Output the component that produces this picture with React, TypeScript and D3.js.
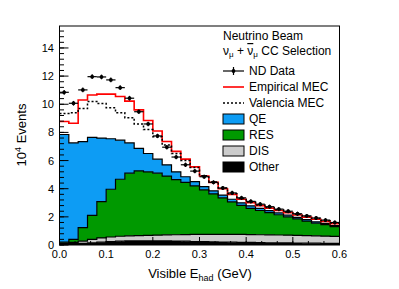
import * as d3 from "d3";

// bin low edges (GeV), width 0.02
const binLow = [0.00, 0.02, 0.04, 0.06, 0.08, 0.10, 0.12, 0.14, 0.16, 0.18, 0.20, 0.22, 0.24, 0.26, 0.28,
  0.30, 0.32, 0.34, 0.36, 0.38, 0.40, 0.42, 0.44, 0.46, 0.48, 0.50, 0.52, 0.54, 0.56, 0.58];
const binWidth = 0.02;

// stacked MC components (10^4 events)
const other = [0.08, 0.10, 0.12, 0.16, 0.20, 0.24, 0.27, 0.29, 0.30, 0.30, 0.30, 0.29, 0.28, 0.27, 0.25,
  0.24, 0.22, 0.21, 0.20, 0.19, 0.18, 0.17, 0.16, 0.15, 0.15, 0.14, 0.13, 0.13, 0.12, 0.12];
const dis = [0.04, 0.08, 0.16, 0.24, 0.30, 0.33, 0.35, 0.36, 0.37, 0.39, 0.40, 0.43, 0.45, 0.47, 0.50,
  0.52, 0.54, 0.55, 0.55, 0.56, 0.56, 0.56, 0.56, 0.56, 0.55, 0.54, 0.54, 0.52, 0.51, 0.49];
const res = [0.08, 0.22, 0.95, 1.70, 2.58, 3.39, 4.05, 4.45, 4.59, 4.51, 4.40, 4.18, 3.92, 3.71, 3.45,
  3.16, 2.87, 2.59, 2.32, 2.07, 1.86, 1.72, 1.58, 1.44, 1.30, 1.17, 1.03, 0.90, 0.82, 0.69];
const qe = [7.65, 6.85, 6.12, 5.55, 4.52, 3.59, 2.78, 2.15, 1.61, 1.30, 1.00, 0.80, 0.55, 0.40, 0.30,
  0.23, 0.22, 0.20, 0.18, 0.18, 0.18, 0.15, 0.14, 0.13, 0.12, 0.11, 0.10, 0.10, 0.08, 0.08];

// MEC contributions on top of the stack
const empiricalMec = [0.92, 1.40, 2.95, 3.01, 3.12, 3.17, 3.10, 2.97, 2.73, 2.35, 2.00, 1.65, 1.45, 1.25, 1.05,
  0.75, 0.60, 0.45, 0.35, 0.25, 0.22, 0.20, 0.18, 0.17, 0.18, 0.17, 0.18, 0.18, 0.15, 0.14];
const valenciaMec = [1.50, 2.15, 2.35, 2.55, 2.45, 2.20, 1.95, 1.80, 1.73, 1.70, 1.60, 1.40, 1.30, 1.15, 1.00,
  0.77, 0.63, 0.50, 0.40, 0.30, 0.27, 0.25, 0.23, 0.22, 0.23, 0.22, 0.23, 0.23, 0.19, 0.18];

// ND data
const ndData = [10.85, 10.07, 11.02, 11.96, 11.94, 11.73, 11.18, 10.43, 9.47, 8.60, 7.75, 6.95, 6.25, 5.70, 5.25,
  4.85, 4.45, 4.05, 3.70, 3.35, 3.10, 2.90, 2.72, 2.55, 2.40, 2.22, 2.07, 1.92, 1.77, 1.60];
const ndErr = [0.06, 0.06, 0.06, 0.06, 0.06, 0.06, 0.06, 0.06, 0.05, 0.05, 0.05, 0.05, 0.05, 0.05, 0.05,
  0.04, 0.04, 0.04, 0.04, 0.04, 0.04, 0.04, 0.04, 0.04, 0.04, 0.04, 0.03, 0.03, 0.03, 0.03];

const yTicks = [0, 2, 4, 6, 8, 10, 12, 14];
const xTicks = [0.0, 0.1, 0.2, 0.3, 0.4, 0.5, 0.6];

const W = 399;
const H = 289;
const FONT = "'Liberation Sans', Arial, Helvetica, sans-serif";

const colors: Record<string, string> = {
  other: "#000000",
  dis: "#cccccc",
  res: "#009900",
  qe: "#0d9cf4",
};

export default function App() {
  const x = d3.scaleLinear().domain([0, 0.6]).range([59.5, 339.5]);
  const y = d3.scaleLinear().domain([0, 15.56]).range([245, 26]);

  const table = binLow.map((lo, i) => ({
    lo,
    other: other[i],
    dis: dis[i],
    res: res[i],
    qe: qe[i],
  }));
  const keys = ["other", "dis", "res", "qe"];
  const stacked = d3.stack<any>().keys(keys)(table);
  const stackTop = stacked[stacked.length - 1].map((d) => d[1]);

  const empTotal = stackTop.map((t, i) => t + empiricalMec[i]);
  const valTotal = stackTop.map((t, i) => t + valenciaMec[i]);

  // step helpers: points at every edge, repeating last value at the right edge
  const stepPts = (vals: number[]) => {
    const pts = binLow.map((lo, i) => [lo, vals[i]] as [number, number]);
    pts.push([binLow[binLow.length - 1] + binWidth, vals[vals.length - 1]]);
    return pts;
  };

  const stepLine = d3
    .line<[number, number]>()
    .x((d) => x(d[0]))
    .y((d) => y(d[1]))
    .curve(d3.curveStepAfter);

  const stepArea = d3
    .area<[number, number, number]>()
    .x((d) => x(d[0]))
    .y0((d) => y(d[1]))
    .y1((d) => y(d[2]))
    .curve(d3.curveStepAfter);

  const layers = stacked.map((s) => {
    const pts = binLow.map((lo, i) => [lo, s[i][0], s[i][1]] as [number, number, number]);
    const last = s[s.length - 1];
    pts.push([binLow[binLow.length - 1] + binWidth, last[0], last[1]]);
    return { key: s.key, pts, top: stepPts(s.map((d) => d[1])) };
  });

  const yMinor = d3.range(0, 15.5, 0.4);
  const xMinor = d3.range(0, 0.6001, 0.1 / 3);

  const legendX = 223;
  const legendRows = [
    { label: "ND Data", kind: "data", y: 71 },
    { label: "Empirical MEC", kind: "red", y: 87 },
    { label: "Valencia MEC", kind: "dot", y: 103 },
    { label: "QE", kind: "qe", y: 119 },
    { label: "RES", kind: "res", y: 135 },
    { label: "DIS", kind: "dis", y: 151 },
    { label: "Other", kind: "other", y: 167 },
  ];

  return (
    <svg
      width={W}
      height={H}
      style={{ position: "absolute", left: 0, top: 0, background: "#fff" }}
      fontFamily={FONT}
    >
      {/* stacked components */}
      {layers.map((l) => (
        <path key={l.key} d={stepArea(l.pts) || ""} fill={colors[l.key]} stroke="none" />
      ))}
      {layers.map((l) => (
        <path key={"o" + l.key} d={stepLine(l.top) || ""} fill="none" stroke="#000" strokeWidth={1.2} />
      ))}

      {/* MEC totals */}
      <path d={stepLine(stepPts(empTotal)) || ""} fill="none" stroke="#ff0000" strokeWidth={1.6} />
      <path
        d={stepLine(stepPts(valTotal)) || ""}
        fill="none"
        stroke="#000"
        strokeWidth={1.5}
        strokeDasharray="2,2"
      />

      {/* data */}
      {ndData.map((v, i) => {
        const cx = x(binLow[i] + binWidth / 2);
        return (
          <g key={"d" + i}>
            <line x1={x(binLow[i])} x2={x(binLow[i] + binWidth)} y1={y(v)} y2={y(v)} stroke="#000" strokeWidth={1.2} />
            <line x1={cx} x2={cx} y1={y(v - ndErr[i]) + 1.5} y2={y(v + ndErr[i]) - 1.5} stroke="#000" strokeWidth={1.2} />
            <circle cx={cx} cy={y(v)} r={1.9} fill="#000" />
          </g>
        );
      })}

      {/* frame */}
      <rect x={59.5} y={26} width={280} height={219} fill="none" stroke="#000" strokeWidth={1} />

      {/* y axis */}
      {yMinor.map((t) => (
        <line key={"ym" + t} x1={59.5} x2={64} y1={y(t)} y2={y(t)} stroke="#000" strokeWidth={1} />
      ))}
      {yTicks.map((t) => (
        <g key={"yt" + t}>
          <line x1={59.5} x2={68.5} y1={y(t)} y2={y(t)} stroke="#000" strokeWidth={1} />
          <text x={54} y={y(t) + 4} textAnchor="end" fontSize={11}>
            {t}
          </text>
        </g>
      ))}

      {/* x axis */}
      {xMinor.map((t, i) => (
        <line key={"xm" + i} x1={x(t)} x2={x(t)} y1={245} y2={241} stroke="#000" strokeWidth={1} />
      ))}
      {xTicks.map((t) => (
        <g key={"xt" + t}>
          <line x1={x(t)} x2={x(t)} y1={245} y2={237} stroke="#000" strokeWidth={1} />
          <text x={x(t)} y={258} textAnchor="middle" fontSize={11}>
            {t.toFixed(1)}
          </text>
        </g>
      ))}

      {/* axis titles */}
      <text x={200} y={278} textAnchor="middle" fontSize={13}>
        Visible E
        <tspan fontSize={9} dy={3}>had</tspan>
        <tspan dy={-3}> (GeV)</tspan>
      </text>
      <text transform="translate(26,135) rotate(-90)" textAnchor="middle" fontSize={13}>
        10
        <tspan fontSize={9} dy={-5}>4</tspan>
        <tspan dy={5}> Events</tspan>
      </text>

      {/* legend */}
      <text x={legendX} y={40} fontSize={12}>
        Neutrino Beam
      </text>
      <text x={legendX} y={55} fontSize={12}>
        ν<tspan fontSize={8} dy={2}>μ</tspan>
        <tspan dy={-2}> + </tspan>
        <tspan textDecoration="overline">ν</tspan>
        <tspan fontSize={8} dy={2}>μ</tspan>
        <tspan dy={-2}> CC Selection</tspan>
      </text>
      {legendRows.map((r) => (
        <g key={r.label}>
          {r.kind === "data" && (
            <g>
              <line x1={legendX} x2={legendX + 21} y1={r.y} y2={r.y} stroke="#000" strokeWidth={1.2} />
              <line x1={legendX + 10.5} x2={legendX + 10.5} y1={r.y - 4} y2={r.y + 4} stroke="#000" strokeWidth={1.2} />
              <circle cx={legendX + 10.5} cy={r.y} r={1.9} fill="#000" />
            </g>
          )}
          {r.kind === "red" && (
            <line x1={legendX} x2={legendX + 21} y1={r.y} y2={r.y} stroke="#ff0000" strokeWidth={1.6} />
          )}
          {r.kind === "dot" && (
            <line x1={legendX} x2={legendX + 21} y1={r.y} y2={r.y} stroke="#000" strokeWidth={1.5} strokeDasharray="2,2" />
          )}
          {["qe", "res", "dis", "other"].includes(r.kind) && (
            <rect x={legendX} y={r.y - 5} width={21} height={10} fill={colors[r.kind]} stroke="#000" strokeWidth={1} />
          )}
          <text x={legendX + 26} y={r.y + 4} fontSize={12}>
            {r.label}
          </text>
        </g>
      ))}
    </svg>
  );
}
